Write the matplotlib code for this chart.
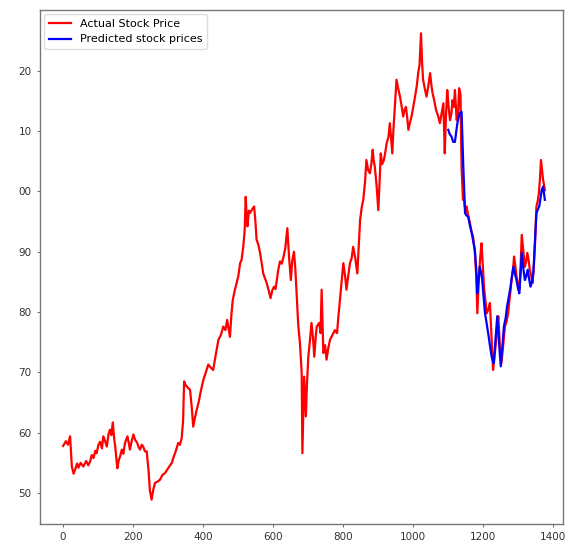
import matplotlib
matplotlib.use("Agg")
import matplotlib.pyplot as plt
from matplotlib.ticker import FuncFormatter

# prezzi reali (giorno, prezzo)
days = [0, 8, 14, 20, 25, 30, 34, 40, 44, 50, 58, 66, 72, 77, 82, 87, 92, 96, 101, 106,
        111, 115, 120, 125, 130, 134, 138, 142, 146, 149, 155, 159, 163, 168, 172, 177, 184, 188, 191, 196,
        201, 206, 212, 216, 220, 225, 229, 234, 239, 244, 248, 253, 258, 263, 270, 277, 284, 291, 300, 306,
        311, 316, 320, 325, 329, 334, 339, 343, 346, 350, 356, 363, 368, 372, 377, 382, 388, 394, 401, 408,
        415, 422, 429, 436, 444, 451, 458, 464, 469, 473, 477, 481, 485, 490, 496, 501, 506, 510, 515, 519,
        522, 525, 527, 531, 534, 540, 546, 550, 553, 558, 563, 568, 572, 577, 582, 588, 593, 598, 603, 607,
        611, 615, 620, 625, 629, 635, 641, 646, 651, 655, 660, 664, 668, 672, 677, 682, 684, 687, 689, 694,
        697, 701, 706, 710, 714, 718, 722, 725, 732, 736, 739, 742, 744, 749, 753, 758, 763, 770, 777, 783,
        787, 793, 797, 801, 806, 810, 815, 820, 825, 829, 835, 841, 845, 849, 854, 858, 863, 867, 872, 877,
        881, 885, 888, 891, 896, 901, 905, 908, 912, 917, 921, 925, 930, 934, 938, 941, 944, 947, 950, 953,
        958, 963, 968, 972, 976, 980, 984, 987, 992, 996, 1001, 1006, 1011, 1015, 1019, 1023, 1026, 1029, 1034, 1039,
        1044, 1049, 1053, 1056, 1061, 1066, 1072, 1077, 1082, 1087, 1091, 1094, 1098, 1102, 1106, 1110, 1113, 1117, 1120, 1125,
        1129, 1132, 1136, 1139, 1143, 1146, 1150, 1153, 1158, 1163, 1168, 1172, 1177, 1181, 1184, 1189, 1193, 1196, 1200, 1203,
        1207, 1211, 1216, 1220, 1225, 1229, 1233, 1237, 1241, 1244, 1248, 1253, 1258, 1263, 1268, 1272, 1277, 1282, 1286, 1289,
        1293, 1296, 1300, 1304, 1308, 1311, 1315, 1320, 1324, 1327, 1331, 1334, 1338, 1342, 1346, 1349, 1353, 1357, 1360, 1363,
        1366, 1369, 1372, 1375, 1377]
actual = [57.8, 58.6, 58.0, 59.4, 54.4, 53.2, 53.8, 54.9, 54.2, 55.0, 54.4, 55.3, 54.6, 55.2, 56.3, 55.8, 57.0, 56.6, 58.0, 58.5,
          57.4, 59.4, 58.6, 57.7, 59.8, 60.5, 59.6, 61.7, 59.0, 57.7, 54.1, 55.4, 56.1, 57.2, 56.5, 58.3, 59.4, 58.2, 57.2, 58.6,
          59.7, 58.8, 58.3, 57.6, 57.2, 58.0, 57.7, 56.9, 56.9, 53.9, 50.5, 48.9, 50.6, 51.7, 51.9, 52.2, 53.0, 53.3, 54.1, 54.6,
          55.0, 56.0, 56.6, 57.5, 58.3, 58.0, 59.1, 62.0, 68.5, 67.9, 67.5, 67.1, 64.0, 61.0, 62.5, 63.8, 65.2, 67.0, 68.8, 70.0,
          71.3, 70.8, 70.4, 72.8, 75.4, 76.2, 77.6, 77.0, 78.7, 77.2, 75.9, 79.5, 82.0, 83.4, 84.8, 86.0, 88.1, 88.6, 90.8, 93.5,
          99.1, 95.5, 94.2, 96.8, 96.4, 97.0, 97.5, 94.8, 92.0, 91.2, 89.8, 88.0, 86.4, 85.6, 84.8, 83.5, 82.3, 83.6, 84.2, 83.8,
          85.3, 87.0, 88.4, 88.0, 88.9, 90.5, 93.9, 89.0, 85.3, 88.5, 90.0, 87.0, 82.6, 78.0, 74.8, 69.9, 56.6, 64.0, 69.3, 62.7,
          68.0, 72.6, 75.5, 78.2, 76.0, 72.6, 75.8, 77.6, 78.2, 76.5, 83.7, 77.0, 73.2, 74.5, 72.1, 74.0, 75.4, 76.2, 77.0, 76.5,
          79.3, 83.1, 85.5, 88.1, 86.0, 83.7, 86.0, 88.1, 89.0, 90.8, 89.0, 86.4, 91.0, 95.3, 97.5, 98.6, 101.5, 105.2, 103.5, 103.0,
          104.5, 106.9, 105.0, 104.1, 101.0, 96.9, 102.0, 106.3, 104.5, 105.2, 106.5, 108.0, 109.0, 111.3, 108.5, 106.3, 110.0, 112.9, 116.0, 118.5,
          117.0, 115.7, 114.0, 112.4, 113.5, 114.0, 112.0, 110.2, 111.5, 112.4, 114.0, 115.7, 117.5, 119.6, 121.0, 126.2, 121.5, 118.5, 117.0, 115.7,
          117.5, 119.6, 117.5, 116.3, 115.0, 113.5, 112.5, 111.3, 113.0, 114.6, 106.3, 112.0, 116.8, 114.0, 111.8, 112.9, 115.1, 114.0, 116.8, 111.8,
          112.9, 117.1, 116.0, 104.0, 98.6, 98.6, 96.5, 97.5, 96.0, 94.7, 93.2, 92.5, 89.8, 86.0, 79.8, 86.4, 89.5, 91.4, 87.5, 84.2,
          82.0, 79.8, 80.5, 81.5, 75.4, 70.4, 72.5, 74.8, 77.5, 79.3, 75.0, 71.5, 74.5, 77.6, 78.5, 79.8, 82.5, 85.3, 87.0, 89.2,
          87.5, 85.9, 84.5, 83.7, 88.0, 92.8, 90.5, 87.5, 88.5, 89.8, 88.5, 87.0, 86.0, 84.8, 88.0, 91.4, 97.5, 98.5, 99.7, 102.0,
          105.2, 103.5, 101.9, 101.0, 100.2]

# prezzi previsti sul periodo di test
pred_days = [1101, 1105, 1110, 1115, 1120, 1124, 1127, 1131, 1134, 1139, 1144, 1149, 1153, 1158, 1163, 1168, 1172, 1177, 1181, 1184,
             1188, 1191, 1195, 1198, 1202, 1206, 1211, 1215, 1220, 1225, 1228, 1231, 1236, 1241, 1246, 1251, 1256, 1260, 1265, 1269,
             1274, 1279, 1283, 1287, 1291, 1296, 1300, 1304, 1308, 1311, 1316, 1320, 1324, 1328, 1332, 1336, 1340, 1344, 1349, 1353,
             1357, 1361, 1365, 1368, 1372, 1375, 1377]
predicted = [110.2, 109.5, 109.1, 108.2, 108.2, 110.0, 111.3, 112.4, 112.9, 113.2, 104.0, 96.4, 96.0, 95.8, 94.3, 93.1, 91.8, 90.3, 87.0, 83.1,
             85.5, 87.5, 86.5, 85.3, 82.5, 79.8, 78.0, 76.5, 74.5, 72.6, 72.0, 71.5, 75.5, 79.3, 75.0, 71.0, 74.5, 77.6, 79.0, 80.9,
             82.5, 84.2, 86.0, 87.5, 86.5, 85.3, 84.0, 83.1, 86.5, 89.8, 87.0, 85.3, 86.0, 87.0, 85.5, 84.2, 85.0, 86.4, 92.0, 96.4,
             97.0, 97.5, 99.0, 100.2, 100.8, 99.5, 98.6]

y_ticks = [50, 60, 70, 80, 90, 100, 110, 120]
x_ticks = [0, 200, 400, 600, 800, 1000, 1200, 1400]

fig = plt.figure(figsize=(5.69, 5.44), dpi=100)
ax = fig.add_axes([0.0703, 0.0368, 0.9192, 0.9448])

ax.plot(days, actual, color='red', linewidth=1.6, label='Actual Stock Price')
ax.plot(pred_days, predicted, color='blue', linewidth=1.6, label='Predicted stock prices')

ax.set_xlim(-66, 1429)
ax.set_ylim(44.87, 130.06)
ax.set_xticks(x_ticks)
ax.set_yticks(y_ticks)
# etichette asse y: solo le ultime due cifre
ax.yaxis.set_major_formatter(FuncFormatter(lambda v, pos: f"{int(round(v)) % 100:02d}"))
ax.tick_params(labelsize=7.5, length=2.5, width=0.6, colors='#555555', labelcolor='#333333')
for s in ax.spines.values():
    s.set_color('#777777')
    s.set_linewidth(1.0)

ax.legend(loc='upper left', fontsize=8, handlelength=2.0, framealpha=1, edgecolor='#dddddd',
          borderaxespad=0.4)

plt.savefig('out.png', dpi=100)
